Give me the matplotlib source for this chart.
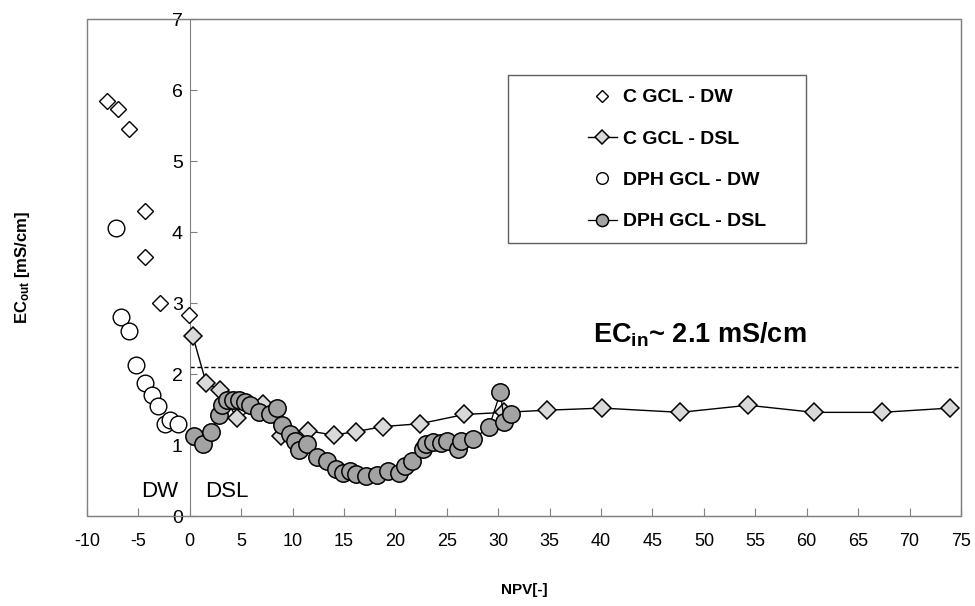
import matplotlib
matplotlib.use('Agg')
import matplotlib.pyplot as plt
from matplotlib.patches import Rectangle

plt.rcParams['font.family'] = ['Liberation Sans', 'DejaVu Sans']
plt.rcParams['mathtext.fontset'] = 'custom'
plt.rcParams['mathtext.bf'] = 'Liberation Sans:bold'
plt.rcParams['mathtext.rm'] = 'Liberation Sans'
plt.rcParams['axes.unicode_minus'] = False

# C GCL - DW (open diamonds)
c_dw_x = [-8.1, -7.0, -5.9, -4.4, -4.4, -2.9, -0.1]
c_dw_y = [5.85, 5.73, 5.45, 4.30, 3.65, 3.00, 2.83]

# C GCL - DSL (grey diamonds, line)
c_dsl_x = [0.3, 1.6, 2.9, 4.6, 7.1, 8.9, 11.5, 14.0, 16.2, 18.8, 22.4,
           26.7, 30.6, 34.7, 40.1, 47.7, 54.3, 60.7, 67.3, 73.9]
c_dsl_y = [2.53, 1.87, 1.78, 1.38, 1.58, 1.12, 1.20, 1.14, 1.19, 1.26, 1.30,
           1.43, 1.46, 1.49, 1.52, 1.46, 1.56, 1.46, 1.46, 1.52]

# DPH GCL - DW (open circles)
dph_dw_x = [-7.2, -6.7, -5.9, -5.2, -4.4, -3.7, -3.1, -2.4, -1.9, -1.1]
dph_dw_y = [4.05, 2.80, 2.60, 2.12, 1.87, 1.70, 1.55, 1.30, 1.35, 1.30]

# DPH GCL - DSL (dark grey circles, line)
dph_dsl_x = [0.4, 1.25, 2.1, 2.8, 3.1, 3.6, 4.2, 4.8, 5.4, 5.9, 6.7, 7.8,
             8.45, 9.0, 9.7, 10.2, 10.65, 11.4, 12.35, 13.3, 14.2, 14.9,
             15.6, 16.2, 17.1, 18.2, 19.3, 20.3, 20.9, 21.6, 22.7, 23.0,
             23.7, 24.4, 25.0, 26.1, 26.4, 27.5, 29.1, 30.2, 30.6, 31.25]
dph_dsl_y = [1.12, 1.02, 1.18, 1.42, 1.57, 1.63, 1.64, 1.63, 1.60, 1.57,
             1.46, 1.44, 1.52, 1.28, 1.16, 1.05, 0.93, 1.01, 0.83, 0.78,
             0.66, 0.60, 0.64, 0.59, 0.56, 0.58, 0.64, 0.60, 0.71, 0.77,
             0.94, 1.01, 1.04, 1.03, 1.05, 0.94, 1.05, 1.08, 1.25, 1.74,
             1.33, 1.44]

ec_in = 2.1

fig = plt.figure(figsize=(9.75, 6.06), dpi=100)
ax = fig.add_axes([0.0892, 0.1485, 0.8964, 0.8201])

ax.plot(c_dsl_x, c_dsl_y, '-', color='black', lw=1.0, marker='D', ms=9.5,
        mfc='#d9d9d9', mec='black', mew=1.1, label='C GCL - DSL', zorder=3)
ax.plot(dph_dsl_x, dph_dsl_y, '-', color='black', lw=0.9, marker='o', ms=12.5,
        mfc='#a3a3a3', mec='black', mew=1.1, label='DPH GCL - DSL', zorder=4)
ax.plot(c_dw_x, c_dw_y, ls='none', marker='D', ms=8.5, mfc='white',
        mec='black', mew=1.0, label='C GCL - DW', zorder=3)
ax.plot(dph_dw_x, dph_dw_y, ls='none', marker='o', ms=12, mfc='white',
        mec='black', mew=1.0, label='DPH GCL - DW', zorder=3)

ax.hlines(ec_in, 0, 75, colors='black', linestyles=(0, (3, 2)), lw=1.0)

ax.set_xlim(-10, 75)
ax.set_ylim(0, 7)
ax.set_xticks(range(-10, 80, 5))
ax.set_yticks(range(0, 8))

for s in ax.spines.values():
    s.set_color('#808080')
ax.spines['left'].set_position(('data', 0))
ax.add_patch(Rectangle((0, 0), 1, 1, transform=ax.transAxes, fill=False,
                       ec='#808080', lw=1.0, clip_on=False))

ax.tick_params(axis='x', direction='in', length=6, color='#808080', pad=12,
               labelsize=13)
ax.tick_params(axis='y', direction='in', length=5, color='#808080', pad=5,
               labelsize=14)

ax.set_xlabel('NPV[-]', fontsize=11, fontweight='bold', labelpad=24)
ax.set_ylabel(r'$\mathbf{EC_{out}}$ [mS/cm]', fontsize=12, fontweight='bold')
ax.yaxis.set_label_coords(-0.063, 0.5, transform=ax.transAxes)

ax.text(39.2, 2.45, r'$\mathbf{EC_{in}}$~ 2.1 mS/cm', fontsize=19.5,
        fontweight='bold', ha='left', va='baseline')
ax.text(-2.9, 0.27, 'DW', fontsize=16, ha='center', va='baseline')
ax.text(1.5, 0.27, 'DSL', fontsize=16, ha='left', va='baseline')

# legend box (Excel style with wide left padding)
ax.add_patch(Rectangle((0.4817, 0.5493), 0.341, 0.338, transform=ax.transAxes,
                       fill=False, ec='#606060', lw=1.0, zorder=5))
h, l = ax.get_legend_handles_labels()
order = [2, 0, 3, 1]
leg = ax.legend([h[i] for i in order], [l[i] for i in order],
                loc='center left', bbox_to_anchor=(0.573, 0.7173),
                frameon=False, borderpad=0, borderaxespad=0,
                handlelength=1.5, handletextpad=0.3, labelspacing=1.22,
                markerscale=0.7, prop={'size': 14, 'weight': 'bold'})

fig.savefig('out.png', dpi=100)
